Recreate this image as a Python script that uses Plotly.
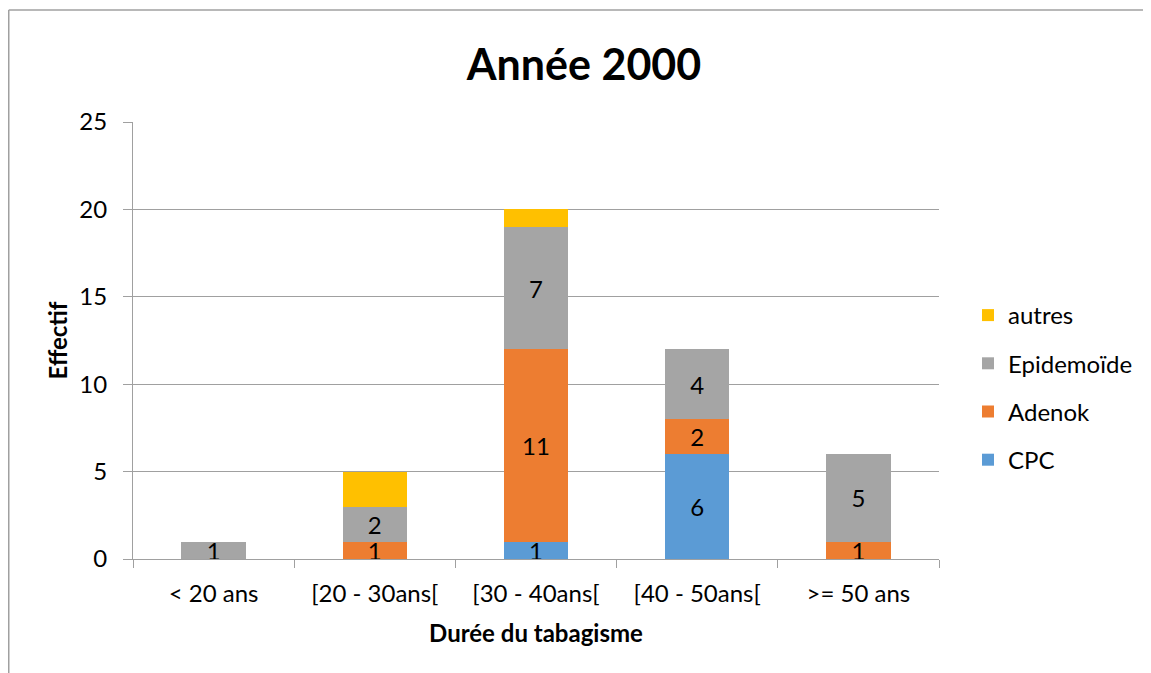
import plotly.graph_objects as go

categories = ["< 20 ans", "[20 - 30ans[", "[30 - 40ans[", "[40 - 50ans[", ">= 50 ans"]
cpc = [0, 0, 1, 6, 0]
adenok = [0, 1, 11, 2, 1]
epidemoide = [1, 2, 7, 4, 5]
autres = [0, 2, 1, 0, 0]

series = [
    ("CPC", cpc, "#5B9BD5", True, 4),
    ("Adenok", adenok, "#ED7D31", True, 3),
    ("Epidemoïde", epidemoide, "#A5A5A5", True, 2),
    ("autres", autres, "#FFC000", False, 1),
]

FONT = "Lato, 'Open Sans', sans-serif"
FS = 24

fig = go.Figure()
for name, vals, color, lab, rank in series:
    fig.add_trace(go.Bar(
        name=name, x=categories, y=vals, legendgroup=name, legendrank=rank,
        marker=dict(color=color, line=dict(width=0)),
        text=[str(v) if (lab and v) else "" for v in vals],
        textposition="inside", insidetextanchor="middle",
        constraintext="none", textangle=0,
        textfont=dict(color="black", size=FS, family=FONT),
        hoverinfo="skip",
    ))

# page has an 8px body margin; figure coordinates = page coordinates - 8
OFF = 8
W, H = 1143, 665
L, R, T, B = 133 - OFF, 939 - OFF, 122 - OFF, 559 - OFF
pw, ph = R - L, B - T

def px(x):
    return (x - L) / pw

def py(y):
    return (B - y) / ph

BORDER = dict(color="#A0A0A0", width=1.5)

fig.update_layout(
    barmode="stack",
    bargap=0.6,
    width=W, height=H,
    margin=dict(l=L, r=W - R, t=T, b=H - B, pad=0, autoexpand=False),
    paper_bgcolor="white", plot_bgcolor="white",
    font=dict(family=FONT, size=FS, color="black"),
    title=dict(text="<b>Année 2000</b>", font=dict(size=43, family=FONT, color="black"),
               x=px(584 - OFF), xref="paper", xanchor="center",
               y=1 - (65 - OFF) / H, yanchor="middle"),
    legend=dict(traceorder="grouped", xref="container", yref="container",
                x=960 / W, xanchor="left", y=1 - 285 / H, yanchor="top",
                font=dict(size=FS, family=FONT), itemwidth=30, tracegroupgap=14,
                bgcolor="rgba(0,0,0,0)"),
    showlegend=True,
    xaxis=dict(
        showline=True, linecolor="#A0A0A0", linewidth=1,
        ticks="outside", tickson="boundaries", ticklen=8, tickcolor="#A0A0A0",
        tickfont=dict(size=FS), ticklabelstandoff=13,
        title=dict(text="<b>Durée du tabagisme</b>", font=dict(size=FS), standoff=19),
        showgrid=False,
    ),
    yaxis=dict(
        range=[0, 25], dtick=5, tick0=0,
        showline=True, linecolor="#A0A0A0", linewidth=1,
        showgrid=True, gridcolor="#A0A0A0", gridwidth=1,
        ticks="outside", ticklen=9, tickcolor="#A0A0A0",
        tickfont=dict(size=FS), ticklabelstandoff=11,
        title=dict(text="<b>Effectif</b>", font=dict(size=FS), standoff=4),
        zeroline=False,
    ),
    shapes=[
        dict(type="line", xref="paper", yref="paper",
             x0=px(0.75), x1=px(W + 20), y0=py(10 - OFF), y1=py(10 - OFF),
             line=BORDER, layer="below"),
        dict(type="line", xref="paper", yref="paper",
             x0=px(0.75), x1=px(0.75), y0=py(10 - OFF), y1=py(H + 20),
             line=BORDER, layer="below"),
    ],
)

fig.write_html("out.html")
